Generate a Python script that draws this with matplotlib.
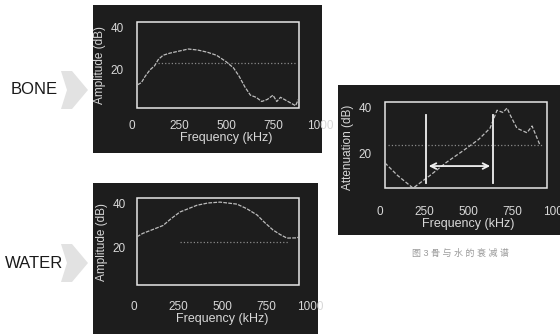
import numpy as np
import matplotlib.pyplot as plt
from matplotlib.patches import Rectangle, Polygon

plt.rcParams['font.family'] = ['Liberation Sans', 'Noto Sans CJK SC', 'DejaVu Sans']

# donnees
ticks_x = [0, 250, 500, 750, 1000]
ticks_y = [20, 40]

bone_f = [30, 50, 70, 95, 120, 140, 165, 200, 250, 300, 350, 400, 450, 500,
          540, 570, 600, 630, 660, 690, 720, 750, 770, 790, 810, 830, 850, 870, 885]
bone_db = [13, 14, 17, 20, 22, 25, 27, 28, 29, 30, 29.5, 28.5, 27, 24,
           21, 17, 12, 8, 7, 5, 6, 8, 5, 7, 6, 5, 4, 3, 6]
bone_ref = 23.3
bone_ref_span = [138, 878]

water_f = [17, 50, 100, 165, 210, 261, 358, 420, 489, 585, 640, 699, 740, 790, 830, 869, 926, 938]
water_db = [25, 26.5, 28, 30, 33, 36, 39, 40, 40.4, 39.5, 37.5, 34.7, 31.5, 28, 26, 24.4, 24.5, 25]
water_ref = 22.7
water_ref_span = [261, 880]

att_f = [28, 100, 188, 284, 380, 472, 560, 625, 645, 665, 699, 722, 739, 778, 835, 864, 909]
att_db = [15.6, 10, 4.4, 10, 16, 21, 26, 31, 35, 39, 38, 40, 37, 31, 29, 32, 23.5]
att_ref = 23.6
att_ref_span = [45, 926]
band = [261, 642]

W, H = 560, 334
fig = plt.figure(figsize=(W / 100, H / 100), dpi=100)
fig.patch.set_facecolor('white')

def box(l, t, r, b):
    return [l / W, 1 - b / H, (r - l) / W, (b - t) / H]

def fond(l, t, r, b):
    a = fig.add_axes(box(l, t, r, b))
    a.set_facecolor('#1d1d1d')
    a.set_xticks([]); a.set_yticks([])
    for s in a.spines.values():
        s.set_visible(False)
    a.set_zorder(0)

def panneau(l, t, r, b, frame, ylabel):
    ax = fig.add_axes(box(l, t, r, b))
    ax.set_zorder(1)
    ax.patch.set_alpha(0)
    ax.set_xlim(0, 1000)
    ax.set_ylim(0, 45)
    for s in ax.spines.values():
        s.set_visible(False)
    ax.add_patch(Rectangle((frame[0], frame[1]), frame[2] - frame[0], frame[3] - frame[1],
                           fill=False, ec='#e6e6e6', lw=1.1, clip_on=False))
    ax.set_xticks(ticks_x)
    ax.set_yticks(ticks_y)
    ax.tick_params(length=0, colors='#d8d8d8', labelsize=8.5, pad=6)
    ax.set_xlabel('Frequency (kHz)', color='#d8d8d8', fontsize=9, labelpad=0)
    ax.set_ylabel(ylabel, color='#d8d8d8', fontsize=8.5, labelpad=3)
    return ax

# BONE
fond(93, 5, 322, 153)
ax1 = panneau(132, 17.5, 320, 112, (27, 1.9, 888, 42.9), 'Amplitude (dB)')
ax1.plot(bone_f, bone_db, color='#bdbdbd', lw=0.9, ls=(0, (3, 1)))
ax1.plot(bone_ref_span, [bone_ref] * 2, color='#8a8a8a', lw=0.9, ls=':')

# WATER
fond(93, 183, 318, 340)
ax2 = panneau(134, 191.75, 310, 293, (17, 3.6, 938, 42.2), 'Amplitude (dB)')
ax2.plot(water_f, water_db, color='#bdbdbd', lw=0.9, ls=(0, (3, 1)))
ax2.plot(water_ref_span, [water_ref] * 2, color='#8a8a8a', lw=0.9, ls=':')

# attenuation
fond(338, 85, 565, 235)
ax3 = panneau(380, 96.75, 556, 198, (28, 4.4, 949, 42.8), 'Attenuation (dB)')
ax3.plot(att_f, att_db, color='#bdbdbd', lw=0.9, ls=(0, (3, 1.5)))
ax3.plot(att_ref_span, [att_ref] * 2, color='#8a8a8a', lw=0.9, ls=':')
for f in band:
    ax3.plot([f, f], [6.7, 36.9], color='#f0f0f0', lw=1.3)
ax3.annotate('', xy=(band[0], 14.2), xytext=(band[1], 14.2),
             arrowprops=dict(arrowstyle='<->', color='#f0f0f0', lw=1.3))

# etiquettes a gauche
fig.text(34 / W, 1 - 90 / H, 'BONE', fontsize=12, ha='center', va='center', color='#1a1a1a')
fig.text(34 / W, 1 - 263 / H, 'WATER', fontsize=12, ha='center', va='center', color='#1a1a1a')
for yc in (90, 263):
    pts = [(61, yc - 19), (72, yc - 19), (88, yc), (72, yc + 19), (61, yc + 19), (67, yc)]
    fig.patches.append(Polygon([(x / W, 1 - y / H) for x, y in pts], closed=True,
                               transform=fig.transFigure, fc='#e2e2e2', ec='none'))

fig.text(460 / W, 1 - 253 / H, '图 3 骨 与 水 的 衰 减 谱', fontsize=6.5, ha='center', va='center',
         color='#9a9a9a')

fig.savefig('out.png', dpi=100)
